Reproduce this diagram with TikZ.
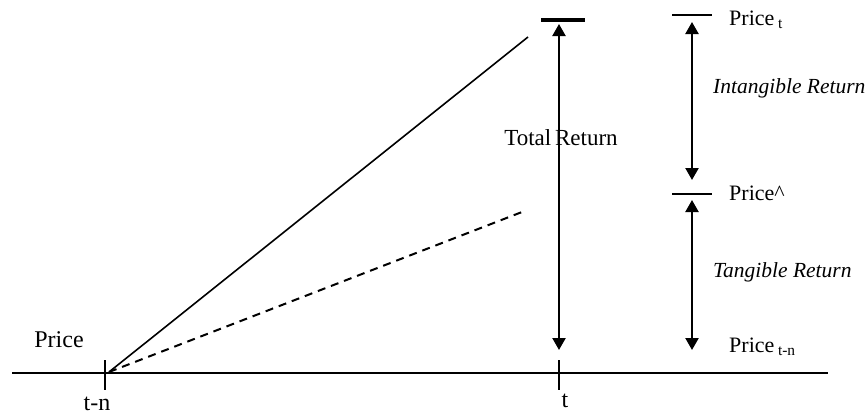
\documentclass[tikz,border=0pt]{standalone}
\usepackage{fontspec}
\setmainfont{Liberation Serif}
\usetikzlibrary{arrows.meta,positioning}
\tikzset{
  axis/.style={line width=2.2pt,black},
  tick/.style={line width=1.6pt,black},
  bar/.style={line width=1.6pt,black},
  thickbar/.style={line width=4pt,black},
  dblarrow/.style={{Triangle[length=12pt,width=13pt]}-{Triangle[length=12pt,width=13pt]},
    line width=2.2pt,black},
  trend/.style={line width=1.6pt,black},
  dashtrend/.style={line width=2pt,black,dash pattern=on 8pt off 6pt},
  lbl/.style={font=\fontsize{24}{26}\selectfont,inner sep=0pt,anchor=base},
  rlbl/.style={font=\fontsize{22}{24}\selectfont,inner sep=0pt,anchor=base west},
  ilbl/.style={font=\fontsize{21.5}{24}\selectfont\itshape,inner sep=0pt,anchor=base west}
}

\begin{document}
\begin{tikzpicture}[x=1pt,y=-1pt]
  \useasboundingbox (0,0) rectangle (866,415);
  \coordinate (axl) at (12,373);
  \coordinate (axr) at (828,373);
  \coordinate (tn) at (105,373);
  \coordinate (t) at (559,373);
  \coordinate (origin) at (109,372);
  \coordinate (solidend) at (528,37);
  \coordinate (dashend) at (522,212);
  \coordinate (tbar) at (563,20);
  \coordinate (ttop) at (559,24);
  \coordinate (tbot) at (559,350);
  \coordinate (ptbar) at (692,15);
  \coordinate (phbar) at (692,194);
  \coordinate (itop) at (692,22);
  \coordinate (ibot) at (692,180);
  \coordinate (gtop) at (692,200);
  \coordinate (gbot) at (692,350);

  \draw[axis] (axl) -- (axr);
  \draw[tick] ([yshift=13pt]tn) -- ([yshift=-17pt]tn);
  \draw[tick] ([yshift=13pt]t) -- ([yshift=-17pt]t);
  \draw[trend] (origin) -- (solidend);
  \draw[dashtrend] (origin) -- (dashend);

  \draw[thickbar] ([xshift=-22pt]tbar) -- ([xshift=22pt]tbar);
  \draw[dblarrow] (ttop) -- (tbot);
  \node[lbl,font=\fontsize{23}{25}\selectfont] (total) at (561,145) {Total\,Return};

  \draw[bar] ([xshift=-20pt]ptbar) -- ([xshift=20pt]ptbar);
  \draw[bar] ([xshift=-20pt]phbar) -- ([xshift=20pt]phbar);
  \draw[dblarrow] (itop) -- (ibot);
  \draw[dblarrow] (gtop) -- (gbot);

  \node[lbl] (price) at (59,347) {Price};
  \node[lbl] (tnlbl) at (97,410) {t-n};
  \node[lbl] (tlbl) at (565,407) {t};
  \node[rlbl] (pricet) at (729,25) {Price\,\textsubscript{t}};
  \node[rlbl] (pricehat) at (729,200) {Price\^{}};
  \node[rlbl] (pricetn) at (729,352) {Price\,\textsubscript{t-n}};
  \node[ilbl] (intang) at (713,93) {Intangible Return};
  \node[ilbl] (tang) at (713,277) {Tangible Return};
\end{tikzpicture}
\end{document}
